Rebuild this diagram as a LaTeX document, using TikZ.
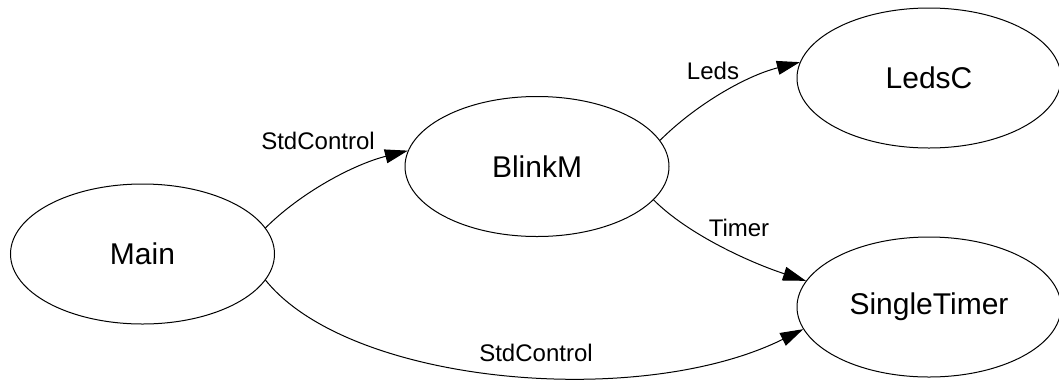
\documentclass[tikz,border=0pt]{standalone}
\usepackage{fontspec}
\setmainfont{Liberation Sans}
\usetikzlibrary{shapes.geometric,arrows.meta}
\begin{document}
\begin{tikzpicture}[x=1pt,y=-1pt,
  comp/.style={draw,ellipse,line width=1pt,minimum width=264pt,minimum height=140pt,inner sep=0pt,font=\fontsize{30}{36}\selectfont},
  lbl/.style={inner sep=0pt,font=\fontsize{24}{29}\selectfont},
  edge/.style={line width=1pt,-{Triangle[length=23pt,width=14pt]}}]
\useasboundingbox (0,0) rectangle (1059,381);
\node[comp] (main) at (142.5,254) {Main};
\node[comp] (blink) at (537,166.5) {BlinkM};
\node[comp] (leds) at (929,78) {LedsC};
\node[comp] (timer) at (929,307) {SingleTimer};
\node[lbl] (l1) at (318,140.5) {StdControl};
\node[lbl] (l2) at (713,70.5) {Leds};
\node[lbl] (l3) at (739,228) {Timer};
\node[lbl] (l4) at (536,352.5) {StdControl};
\draw[edge] (main.12) .. controls +(35,-35) and +(-55,14) .. (blink.173);
\draw[edge] (blink.12) .. controls +(35,-35) and +(-55,14) .. (leds.173);
\draw[edge] (blink.-16) .. controls +(35,35) and +(-55,-18) .. (timer.168);
\draw[edge] (main.-12) .. controls (350,385) and (640,410) .. (timer.190);
\end{tikzpicture}
\end{document}
